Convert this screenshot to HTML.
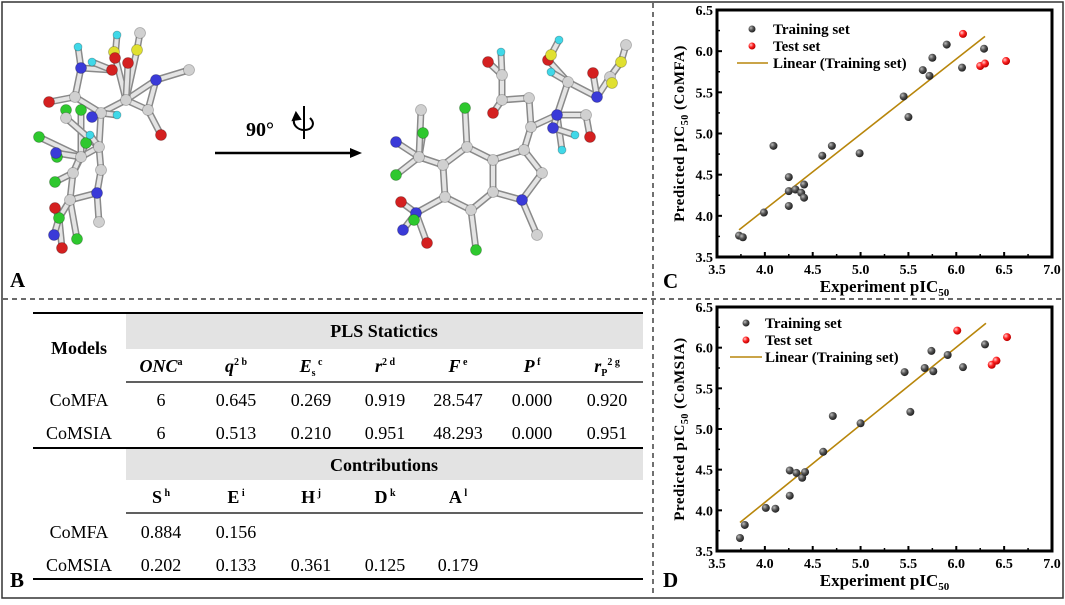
<!DOCTYPE html>
<html><head><meta charset="utf-8">
<style>
body{margin:0;background:#fff;}
svg, svg text, svg tspan{font-family:"Liberation Serif","Times New Roman",serif;}
</style></head>
<body>
<svg width="1065" height="600" viewBox="0 0 1065 600" xmlns="http://www.w3.org/2000/svg" font-family="Liberation Serif, serif">
<defs>
<radialGradient id="gball" cx="35%" cy="35%" r="65%"><stop offset="0" stop-color="#bbb"/><stop offset="0.5" stop-color="#555"/><stop offset="1" stop-color="#222"/></radialGradient>
<radialGradient id="rball" cx="35%" cy="35%" r="65%"><stop offset="0" stop-color="#fcc"/><stop offset="0.5" stop-color="#f22"/><stop offset="1" stop-color="#b00"/></radialGradient>
</defs>
<rect x="2" y="2" width="1061" height="596" fill="#fff" stroke="#333" stroke-width="1.5"/>
<line x1="653" y1="3" x2="653" y2="597" stroke="#111" stroke-width="1.2" stroke-dasharray="5,4"/>
<line x1="3" y1="299" x2="1062" y2="299" stroke="#111" stroke-width="1.2" stroke-dasharray="5,4"/>

<g id="panelA"></g>
<line x1="215" y1="153" x2="352" y2="153" stroke="#000" stroke-width="2.5"/>
<polygon points="362,153 350,148 350,158" fill="#000"/>
<text x="260" y="136" font-size="20" font-weight="bold" text-anchor="middle">90°</text>
<g stroke="#000" stroke-width="2" fill="none">
<line x1="304" y1="106" x2="304" y2="139"/>
<path d="M296,116 C290,124 298,130 304,130 C312,130 316,124 310,118"/>
<polygon points="296,113 293,120 300,119" fill="#000"/>
</g>
<text x="10" y="287" font-size="21" font-weight="bold">A</text>

<g font-size="18" text-anchor="middle" font-family="Liberation Serif, serif">
<rect x="126" y="314" width="517" height="35" fill="#e3e3e3"/>
<rect x="126" y="449" width="517" height="31" fill="#e3e3e3"/>
<line x1="33" y1="313" x2="643" y2="313" stroke="#000" stroke-width="2"/>
<line x1="126" y1="382" x2="643" y2="382" stroke="#000" stroke-width="1.3"/>
<line x1="33" y1="448" x2="643" y2="448" stroke="#000" stroke-width="2"/>
<line x1="126" y1="513" x2="643" y2="513" stroke="#000" stroke-width="1.3"/>
<line x1="33" y1="579" x2="643" y2="579" stroke="#000" stroke-width="2"/>
<text x="384" y="337" font-weight="bold">PLS Statictics</text>
<text x="79" y="354" font-weight="bold">Models</text>
<g font-weight="bold" font-style="italic">
<text x="161" y="372">ONC<tspan font-size="10" dy="-7" font-style="normal">a</tspan></text>
<text x="236" y="372">q<tspan font-size="10" dy="-7" font-style="normal">2 b</tspan></text>
<text x="311" y="372">E<tspan font-size="10" dy="4" font-style="normal">s</tspan><tspan font-size="10" dy="-11" font-style="normal"> c</tspan></text>
<text x="385" y="372">r<tspan font-size="10" dy="-7" font-style="normal">2 d</tspan></text>
<text x="458" y="372">F<tspan font-size="10" dy="-7" font-style="normal"> e</tspan></text>
<text x="532" y="372">P<tspan font-size="10" dy="-7" font-style="normal"> f</tspan></text>
<text x="607" y="372">r<tspan font-size="10" dy="4" font-style="normal">P</tspan><tspan font-size="10" dy="-11" font-style="normal">2 g</tspan></text>
</g>
<g>
<text x="79" y="406">CoMFA</text><text x="161" y="406">6</text><text x="236" y="406">0.645</text><text x="311" y="406">0.269</text><text x="385" y="406">0.919</text><text x="458" y="406">28.547</text><text x="532" y="406">0.000</text><text x="607" y="406">0.920</text>
</g>
<g>
<text x="79" y="439">CoMSIA</text><text x="161" y="439">6</text><text x="236" y="439">0.513</text><text x="311" y="439">0.210</text><text x="385" y="439">0.951</text><text x="458" y="439">48.293</text><text x="532" y="439">0.000</text><text x="607" y="439">0.951</text>
</g>
<text x="384" y="471" font-weight="bold">Contributions</text>
<g font-weight="bold">
<text x="161" y="503">S<tspan font-size="10" dy="-7"> h</tspan></text>
<text x="236" y="503">E<tspan font-size="10" dy="-7"> i</tspan></text>
<text x="311" y="503">H<tspan font-size="10" dy="-7"> j</tspan></text>
<text x="385" y="503">D<tspan font-size="10" dy="-7"> k</tspan></text>
<text x="458" y="503">A<tspan font-size="10" dy="-7"> l</tspan></text>
</g>
<g>
<text x="79" y="538">CoMFA</text><text x="161" y="538">0.884</text><text x="236" y="538">0.156</text>
</g>
<g>
<text x="79" y="571">CoMSIA</text><text x="161" y="571">0.202</text><text x="236" y="571">0.133</text><text x="311" y="571">0.361</text><text x="385" y="571">0.125</text><text x="458" y="571">0.179</text>
</g>
</g>
<text x="10" y="587" font-size="21" font-weight="bold">B</text>
<text x="663" y="288" font-size="21" font-weight="bold">C</text>
<text x="663" y="587" font-size="21" font-weight="bold">D</text>

<g id="chartC"></g>
<g id="chartD"></g>
</svg>

<script>
const xTicks = [3.5, 4.0, 4.5, 5.0, 5.5, 6.0, 6.5, 7.0];
const yTicks = [3.5, 4.0, 4.5, 5.0, 5.5, 6.0, 6.5];
const comfaTrainX = [3.73,3.77,3.99,4.09,4.25,4.25,4.25,4.32,4.38,4.41,4.41,4.60,4.70,4.99,5.45,5.50,5.65,5.72,5.75,5.90,6.06,6.29];
const comfaTrainY = [3.76,3.74,4.04,4.85,4.47,4.30,4.12,4.32,4.28,4.38,4.22,4.73,4.85,4.76,5.45,5.20,5.77,5.70,5.92,6.08,5.80,6.03];
const comfaTestX = [6.07,6.25,6.30,6.52];
const comfaTestY = [6.21,5.82,5.85,5.88];
const comfaLineX = [3.73,6.30];
const comfaLineY = [3.83,6.18];
const comsiaTrainX = [3.74,3.79,4.01,4.11,4.26,4.26,4.33,4.39,4.42,4.61,4.71,5.00,5.46,5.52,5.67,5.74,5.76,5.91,6.07,6.30];
const comsiaTrainY = [3.66,3.82,4.03,4.02,4.49,4.18,4.46,4.40,4.47,4.72,5.16,5.07,5.70,5.21,5.75,5.96,5.71,5.91,5.76,6.04];
const comsiaTestX = [6.01,6.37,6.42,6.53];
const comsiaTestY = [6.21,5.79,5.84,6.13];
const comsiaLineX = [3.74,6.31];
const comsiaLineY = [3.85,6.30];

const NS = 'http://www.w3.org/2000/svg';
function mk(parent, tag, attrs, txt){
  const e = document.createElementNS(NS, tag);
  for (const k in attrs) e.setAttribute(k, attrs[k]);
  if (txt !== undefined) e.textContent = txt;
  parent.appendChild(e); return e;
}

function drawChart(g, box, trainX, trainY, testX, testY, lineX, lineY, yTitle, leg){
  const xs = v => box.l + (v - 3.5) / 3.5 * (box.r - box.l);
  const ys = v => box.b - (v - 3.5) / 3.0 * (box.b - box.t);
  xTicks.forEach((t, i) => {
    const x = xs(t);
    const tk = mk(g, 'line', {x1:x, y1:box.b, x2:x, y2:box.b-5, stroke:'#000','stroke-width':2});
    
    
    if (i < xTicks.length - 1) mk(g, 'line', {x1:xs(t+0.25), y1:box.b, x2:xs(t+0.25), y2:box.b-3, stroke:'#000','stroke-width':1.5});
    const lb = mk(g, 'text', {x:x, y:box.b+17, 'font-size':14, 'font-weight':'bold', 'text-anchor':'middle'}, t.toFixed(1));
    
    
  });
  yTicks.forEach((t, i) => {
    const y = ys(t);
    const tk = mk(g, 'line', {x1:box.l, y1:y, x2:box.l+5, y2:y, stroke:'#000','stroke-width':2});
    
    
    if (i < yTicks.length - 1) mk(g, 'line', {x1:box.l, y1:ys(t+0.25), x2:box.l+3, y2:ys(t+0.25), stroke:'#000','stroke-width':1.5});
    const lb = mk(g, 'text', {x:box.l-4, y:y+5, 'font-size':14, 'font-weight':'bold', 'text-anchor':'end'}, t.toFixed(1));
    
    
  });
  const fr = mk(g, 'rect', {x:box.l, y:box.t, width:box.r-box.l, height:box.b-box.t, fill:'none', stroke:'#000', 'stroke-width':3});
  
  
  const ln = mk(g, 'line', {x1:xs(lineX[0]), y1:ys(lineY[0]), x2:xs(lineX[1]), y2:ys(lineY[1]), stroke:'#b8860b', 'stroke-width':1.6});
  
  
  trainX.forEach((v, i) => {
    const c = mk(g, 'circle', {cx:xs(v), cy:ys(trainY[i]), r:4, fill:'url(#gball)'});
    
    
  });
  testX.forEach((v, i) => {
    const c = mk(g, 'circle', {cx:xs(v), cy:ys(testY[i]), r:4, fill:'url(#rball)'});
    
    
  });
  const lg = mk(g, 'g', {});
  
  
  mk(lg, 'circle', {cx:leg.mx, cy:leg.y, r:3.5, fill:'url(#gball)'});
  mk(lg, 'text', {x:leg.tx, y:leg.y+5, 'font-size':15, 'font-weight':'bold'}, 'Training set');
  mk(lg, 'circle', {cx:leg.mx, cy:leg.y+17, r:3.5, fill:'url(#rball)'});
  mk(lg, 'text', {x:leg.tx, y:leg.y+22, 'font-size':15, 'font-weight':'bold'}, 'Test set');
  mk(lg, 'line', {x1:leg.l1, y1:leg.y+34, x2:leg.l2, y2:leg.y+34, stroke:'#b8860b', 'stroke-width':1.6});
  mk(lg, 'text', {x:leg.tx, y:leg.y+39, 'font-size':15, 'font-weight':'bold'}, 'Linear (Training set)');
  const xt = mk(g, 'text', {x:(box.l+box.r)/2, y:box.b+35, 'font-size':17, 'font-weight':'bold', 'text-anchor':'middle'});
  
  
  xt.innerHTML = 'Experiment pIC<tspan font-size="11" dy="4">50</tspan>';
  const cy = (box.t+box.b)/2;
  const yt = mk(g, 'text', {x:0, y:0, 'font-size':15, 'font-weight':'bold', 'text-anchor':'middle', transform:`translate(684,${cy}) rotate(-90)`, 'letter-spacing':'0.5'});
  
  
  yt.innerHTML = 'Predicted pIC<tspan font-size="10" dy="4">50</tspan><tspan dy="-4"> (' + yTitle + ')</tspan>';
}
drawChart(document.getElementById('chartC'), {l:717, r:1052, t:10, b:257}, comfaTrainX, comfaTrainY, comfaTestX, comfaTestY, comfaLineX, comfaLineY, 'CoMFA', {mx:752, tx:773, y:29, l1:737, l2:768});
drawChart(document.getElementById('chartD'), {l:717, r:1052, t:307, b:551}, comsiaTrainX, comsiaTrainY, comsiaTestX, comsiaTestY, comsiaLineX, comsiaLineY, 'CoMSIA', {mx:746, tx:765, y:323, l1:730, l2:762});

const col = {C:'#d0d0d0', N:'#3a3ad8', O:'#d42020', F:'#2ec82e', H:'#40d8e8', S:'#e0e030'};
const atomsA = [
 ['N',81,68],['H',78,47],['C',75,97],['O',49,102],['C',101,113],['N',92,117],['C',126,100],['C',148,110],['O',161,135],
 ['N',156,80],['C',189,70],['S',137,50],['C',140,33],['S',114,52],['O',115,58],['H',117,35],['O',112,70],['O',128,63],['H',92,62],
 ['C',99,147],['C',81,157],['C',101,170],['N',97,193],['C',70,200],['C',73,173],['C',99,222],
 ['F',66,110],['F',81,110],['F',39,137],['F',86,143],['F',55,182],['F',57,157],['F',77,239],['F',59,218],
 ['N',56,153],['N',54,235],['O',55,208],['O',62,248],['C',66,118],['H',90,135],['H',117,115],
 ['C',443,165],['C',467,147],['C',493,160],['C',493,192],['C',471,210],['C',445,197],['C',524,150],['C',542,173],['N',522,200],['C',537,235],
 ['F',465,108],['F',476,250],['C',419,157],['F',396,175],['F',423,133],['N',396,142],['C',421,110],
 ['N',416,213],['O',401,202],['O',427,243],['N',403,230],['F',414,220],
 ['C',531,127],['C',529,98],['C',502,100],['O',493,113],['C',502,75],['O',488,62],['H',501,52],
 ['N',557,115],['C',586,115],['O',590,137],['H',562,150],['N',553,128],['H',575,135],
 ['C',568,82],['N',597,97],['C',610,77],['S',621,62],['S',612,83],['C',626,45],['O',548,60],['S',551,55],['H',559,40],['H',551,72],['O',593,73]
];
const bondsA = [[0,1],[0,2],[2,3],[2,4],[4,5],[4,6],[6,7],[7,8],[7,9],[9,10],[9,6],[6,11],[11,12],[6,13],[13,14],[14,15],[0,16],[6,17],[16,18],
 [4,19],[19,20],[19,21],[21,22],[22,25],[20,24],[24,23],[23,22],[24,30],[24,29],[20,28],[20,27],[23,32],[23,33],[33,36],[33,37],[33,35],[20,34],[19,38],[38,26],[19,39],[4,40],
 [41,42],[42,43],[43,44],[44,45],[45,46],[46,41],[43,47],[47,48],[48,49],[49,44],[49,50],[42,51],[45,52],[41,53],[53,54],[53,55],[53,56],[53,57],
 [46,58],[58,59],[58,60],[58,61],[58,62],[47,63],[63,64],[64,65],[65,66],[65,67],[67,68],[67,69],[63,70],[70,71],[71,72],[70,73],[70,74],[74,75],[70,76],[76,77],[77,78],[78,79],[78,80],[79,81],[76,82],[82,83],[83,84],[76,85],[77,86]];
const gA = document.getElementById('panelA');
bondsA.forEach(b => {
  const a = atomsA[b[0]], c = atomsA[b[1]];
  mk(gA, 'line', {x1:a[1], y1:a[2], x2:c[1], y2:c[2], stroke:'#8a8a8a', 'stroke-width':7, 'stroke-linecap':'round'});
  mk(gA, 'line', {x1:a[1], y1:a[2], x2:c[1], y2:c[2], stroke:'#e4e4e4', 'stroke-width':4, 'stroke-linecap':'round'});
});
atomsA.forEach(a => {
  mk(gA, 'circle', {cx:a[1], cy:a[2], r:a[0]==='H'?4:5.5, fill:col[a[0]], stroke:'rgba(0,0,0,0.25)', 'stroke-width':0.8});
});
</script>
</body></html>
